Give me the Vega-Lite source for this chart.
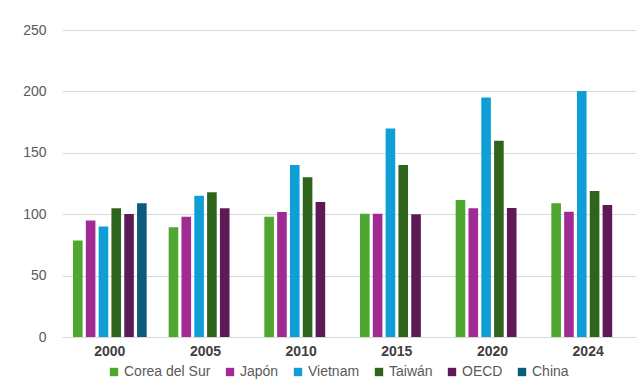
{
  "$schema": "https://vega.github.io/schema/vega-lite/v6.json",
  "width": 574,
  "height": 307,
  "autosize": {"type": "none"},
  "padding": {"left": 62, "top": 30, "right": 7, "bottom": 53},
  "config": {"view": {"stroke": null}, "font": "Liberation Sans"},
  "data": {
    "values": [
      {"anio": "2000", "serie": "Corea del Sur", "valor": 78.5},
      {"anio": "2000", "serie": "Japón", "valor": 94.8},
      {"anio": "2000", "serie": "Vietnam", "valor": 89.9},
      {"anio": "2000", "serie": "Taiwán", "valor": 104.8},
      {"anio": "2000", "serie": "OECD", "valor": 100.2},
      {"anio": "2000", "serie": "China", "valor": 108.9},
      {"anio": "2005", "serie": "Corea del Sur", "valor": 89.4},
      {"anio": "2005", "serie": "Japón", "valor": 98},
      {"anio": "2005", "serie": "Vietnam", "valor": 115},
      {"anio": "2005", "serie": "Taiwán", "valor": 117.8},
      {"anio": "2005", "serie": "OECD", "valor": 104.8},
      {"anio": "2010", "serie": "Corea del Sur", "valor": 98},
      {"anio": "2010", "serie": "Japón", "valor": 101.8},
      {"anio": "2010", "serie": "Vietnam", "valor": 140},
      {"anio": "2010", "serie": "Taiwán", "valor": 130},
      {"anio": "2010", "serie": "OECD", "valor": 110},
      {"anio": "2015", "serie": "Corea del Sur", "valor": 100.4},
      {"anio": "2015", "serie": "Japón", "valor": 100.4},
      {"anio": "2015", "serie": "Vietnam", "valor": 169.8},
      {"anio": "2015", "serie": "Taiwán", "valor": 140},
      {"anio": "2015", "serie": "OECD", "valor": 100},
      {"anio": "2020", "serie": "Corea del Sur", "valor": 111.6},
      {"anio": "2020", "serie": "Japón", "valor": 104.8},
      {"anio": "2020", "serie": "Vietnam", "valor": 195},
      {"anio": "2020", "serie": "Taiwán", "valor": 159.8},
      {"anio": "2020", "serie": "OECD", "valor": 105},
      {"anio": "2024", "serie": "Corea del Sur", "valor": 108.9},
      {"anio": "2024", "serie": "Japón", "valor": 102},
      {"anio": "2024", "serie": "Vietnam", "valor": 200.4},
      {"anio": "2024", "serie": "Taiwán", "valor": 118.9},
      {"anio": "2024", "serie": "OECD", "valor": 107.5}
    ]
  },
  "mark": {"type": "bar"},
  "encoding": {
    "x": {
      "field": "anio",
      "type": "nominal",
      "scale": {"paddingInner": 0.23, "paddingOuter": 0.115},
      "axis": {
        "title": null,
        "labelAngle": 0,
        "labelFontWeight": "bold",
        "labelFontSize": 14,
        "labelColor": "#404040",
        "ticks": false,
        "domain": true,
        "domainColor": "#D9D9D9",
        "labelPadding": 7
      }
    },
    "xOffset": {
      "field": "serie",
      "type": "nominal",
      "sort": ["Corea del Sur", "Japón", "Vietnam", "Taiwán", "OECD", "China"],
      "scale": {
        "domain": ["Corea del Sur", "Japón", "Vietnam", "Taiwán", "OECD", "China"],
        "paddingInner": 0.25
      }
    },
    "y": {
      "field": "valor",
      "type": "quantitative",
      "scale": {"domain": [0, 250], "nice": false},
      "axis": {
        "title": null,
        "values": [0, 50, 100, 150, 200, 250],
        "grid": true,
        "gridColor": "#D9D9D9",
        "domain": false,
        "ticks": false,
        "labelPadding": 16,
        "labelFontSize": 14,
        "labelColor": "#595959"
      }
    },
    "color": {
      "field": "serie",
      "type": "nominal",
      "sort": ["Corea del Sur", "Japón", "Vietnam", "Taiwán", "OECD", "China"],
      "scale": {
        "domain": ["Corea del Sur", "Japón", "Vietnam", "Taiwán", "OECD", "China"],
        "range": ["#4EA72E", "#A02B93", "#0F9ED5", "#2F641C", "#5E1A57", "#0B5C7C"]
      },
      "legend": {
        "orient": "none",
        "legendX": 45,
        "legendY": 335,
        "direction": "horizontal",
        "title": null,
        "symbolType": "square",
        "symbolSize": 70,
        "symbolOffset": 0,
        "labelOffset": 3,
        "labelFontSize": 14,
        "labelColor": "#595959",
        "columnPadding": 12
      }
    }
  }
}
